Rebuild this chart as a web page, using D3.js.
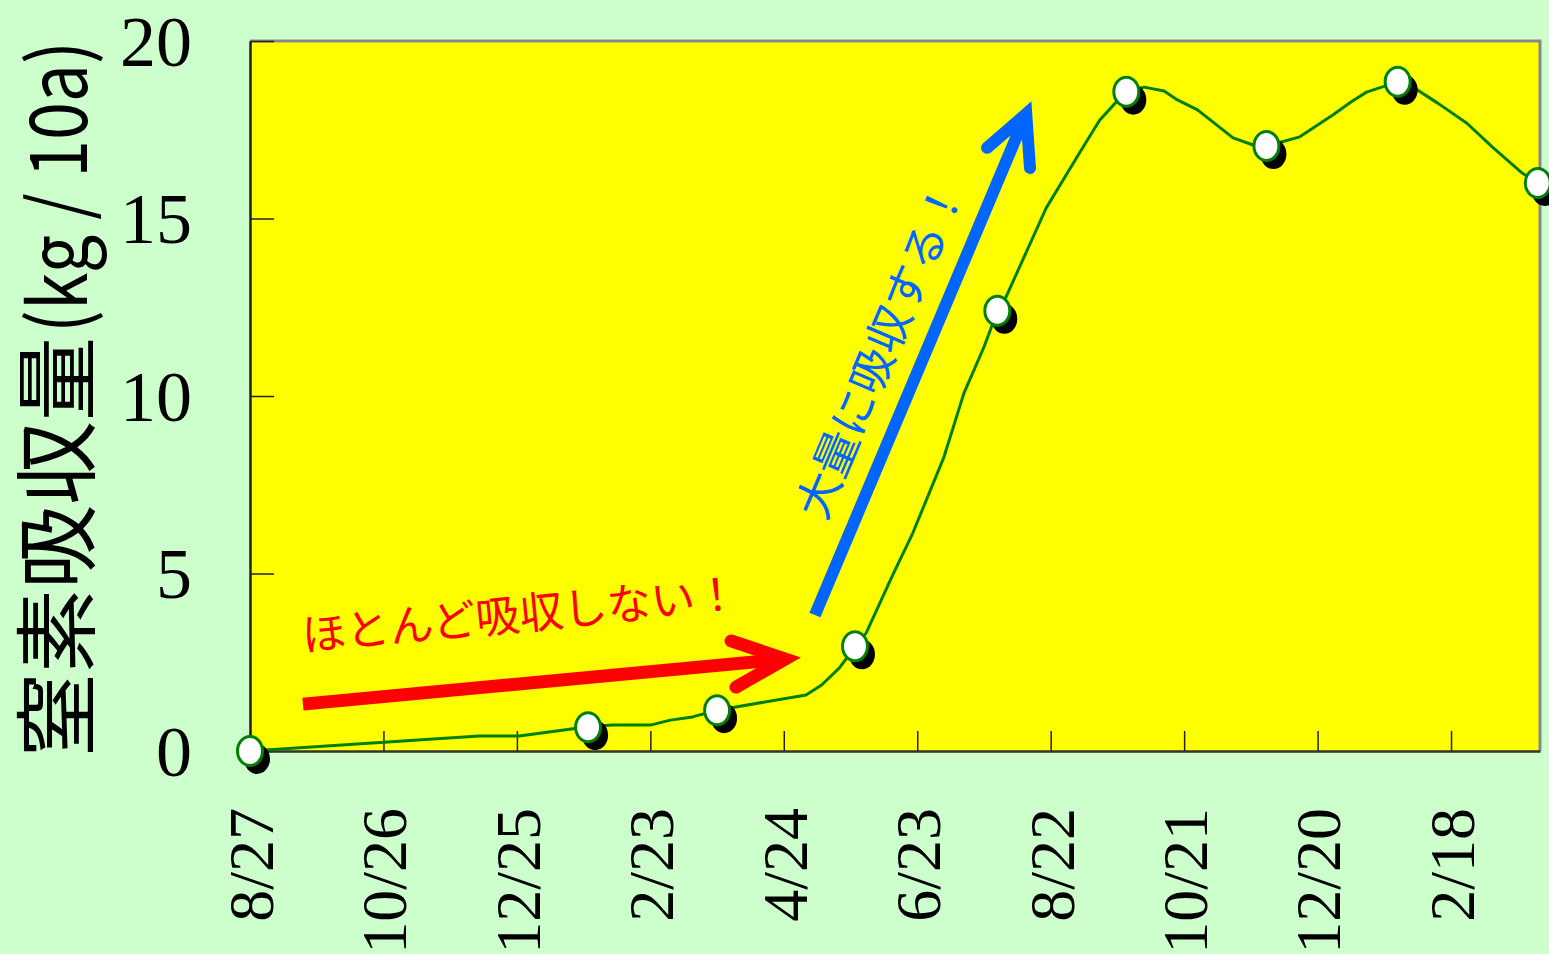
<!DOCTYPE html>
<html><head><meta charset="utf-8">
<script src="https://cdn.jsdelivr.net/npm/d3@7"></script>
<style>
html,body{margin:0;padding:0;background:#CCFFCC;}
svg{display:block;}
</style></head>
<body>
<svg id="chart" width="1549" height="954"></svg>
<script>
// ---- data ----
const tickDays   = [0, 60, 120, 180, 240, 300, 360, 420, 480, 540];
const tickLabels = ["8/27","10/26","12/25","2/23","4/24","6/23","8/22","10/21","12/20","2/18"];
const yTicks     = [0, 5, 10, 15, 20];
// sampled (marker) points: days since 8/27, nitrogen uptake kg/10a
const sampleDays   = [0, 152, 210, 272, 336, 394, 457, 516, 579];
const sampleValues = [0, 0.67, 1.15, 2.95, 12.4, 18.57, 17.04, 18.85, 16.0];
// simulated curve
const curveDays   = [0, 103, 121, 152, 163, 180, 189, 199, 210, 250, 257, 265, 272, 277, 289, 298, 312, 321, 330, 336, 340, 358, 373, 382, 389, 394, 402, 411, 417, 426, 442, 451, 457, 472, 487, 495, 502, 516, 523, 534, 547, 559, 572, 579];
const curveValues = [0, 0.42, 0.42, 0.68, 0.73, 0.73, 0.87, 0.96, 1.15, 1.58, 1.86, 2.34, 2.93, 3.32, 4.96, 6.14, 8.28, 10.08, 11.38, 12.39, 12.8, 15.3, 16.85, 17.77, 18.25, 18.56, 18.70, 18.59, 18.34, 18.06, 17.27, 17.07, 17.04, 17.30, 17.92, 18.28, 18.56, 18.85, 18.70, 18.25, 17.69, 16.99, 16.28, 16.0];
// annotations
const redText  = "ほとんど吸収しない！";
const blueText = "大量に吸収する！";
const yTitleMain = "窒素吸収量";
const yTitleUnit = "(kg / 10a)";

// ---- layout ----
const W = 1549, H = 954;
const m = {left: 250, top: 41, right: 1540, bottom: 751};
const svg = d3.select("#chart");
const x = d3.scaleLinear().domain([0, 580]).range([m.left, m.right]);
const y = d3.scaleLinear().domain([0, 20]).range([m.bottom, m.top]);

svg.append("rect").attr("width", W).attr("height", H).attr("fill", "#CCFFCC");
svg.append("rect").attr("x", m.left).attr("y", m.top)
  .attr("width", m.right - m.left).attr("height", m.bottom - m.top)
  .attr("fill", "#FFFF00");
svg.append("path")
  .attr("d", `M${m.left},${m.top}H${m.right}V${m.bottom}`)
  .attr("fill", "none").attr("stroke", "#888").attr("stroke-width", 3);

// axes
const yAxis = d3.axisLeft(y).tickValues(yTicks).tickSizeInner(-24).tickSizeOuter(0).tickPadding(58);
const gy = svg.append("g").attr("transform", `translate(${m.left},0)`).call(yAxis);
gy.select(".domain").attr("stroke", "#222").attr("stroke-width", 2.5);
gy.selectAll(".tick line").attr("stroke", "#222").attr("stroke-width", 1.5);
gy.selectAll(".tick text").attr("font-family", "'Liberation Serif','Times New Roman',serif")
  .attr("font-size", 72).attr("fill", "#000").attr("dy", "0.34em");

const xAxis = d3.axisBottom(x).tickValues(tickDays).tickFormat((d, i) => tickLabels[i])
  .tickSizeInner(-20).tickSizeOuter(0);
const gx = svg.append("g").attr("transform", `translate(0,${m.bottom})`).call(xAxis);
gx.select(".domain").attr("stroke", "#333").attr("stroke-width", 2.5);
gx.selectAll(".tick line").attr("stroke", "#222").attr("stroke-width", 1.5);
gx.selectAll(".tick text")
  .attr("font-family", "'Liberation Serif','Times New Roman',serif")
  .attr("font-size", 64).attr("fill", "#000")
  .attr("transform", "rotate(-90)")
  .attr("x", -57).attr("y", 0).attr("dy", "0.35em")
  .attr("text-anchor", "end");

// y title (two parts)
const titleFont = "'Noto Sans CJK JP','Noto Sans',sans-serif";
svg.append("text")
  .attr("transform", `translate(58,757) rotate(-90)`)
  .attr("text-anchor", "start").attr("dy", "0.36em")
  .attr("font-family", titleFont).attr("font-size", 84).attr("fill", "#000")
  .text(yTitleMain);
svg.append("text")
  .attr("transform", `translate(58,333) rotate(-90)`)
  .attr("text-anchor", "start").attr("dy", "0.36em")
  .attr("font-family", titleFont).attr("font-size", 80).attr("fill", "#000")
  .attr("textLength", 292).attr("lengthAdjust", "spacingAndGlyphs")
  .text(yTitleUnit);

// curve
const curve = curveDays.map((d, i) => [d, curveValues[i]]);
svg.append("path").datum(curve)
  .attr("d", d3.line().x(d => x(d[0])).y(d => y(d[1])))
  .attr("fill", "none").attr("stroke", "#008000").attr("stroke-width", 3)
  .attr("stroke-linejoin", "round");

// markers
const samples = sampleDays.map((d, i) => [d, sampleValues[i]]);
svg.append("g").selectAll("ellipse").data(samples).join("ellipse")
  .attr("cx", d => x(d[0]) + 7).attr("cy", d => y(d[1]) + 8)
  .attr("rx", 13).attr("ry", 15).attr("fill", "#000");
svg.append("g").selectAll("ellipse").data(samples).join("ellipse")
  .attr("cx", d => x(d[0])).attr("cy", d => y(d[1]))
  .attr("rx", 12.5).attr("ry", 14.5).attr("fill", "#fff")
  .attr("stroke", "#008000").attr("stroke-width", 3);

// arrows
function arrow(start, tip, armA, armB, color, w) {
  const g = svg.append("g");
  g.append("path")
    .attr("d", `M${x(start[0])},${y(start[1])}L${x(tip[0])},${y(tip[1])}`)
    .attr("stroke", color).attr("stroke-width", w).attr("fill", "none");
  g.append("path")
    .attr("d", `M${x(armA[0])},${y(armA[1])}L${x(tip[0])},${y(tip[1])}L${x(armB[0])},${y(armB[1])}`)
    .attr("stroke", color).attr("stroke-width", w).attr("fill", "none")
    .attr("stroke-linecap", "round").attr("stroke-linejoin", "miter").attr("stroke-miterlimit", 10);
}
arrow([23.8, 1.32], [240.6, 2.59], [216.3, 3.10], [218.5, 1.80], "#FF0000", 13);
arrow([254.0, 3.83], [349.0, 17.95], [331.4, 16.99], [350.7, 16.42], "#0066FF", 12);

svg.append("text")
  .attr("transform", `translate(${x(24.0)},${y(2.80)}) rotate(-5.6)`)
  .attr("font-family", "'Noto Sans CJK JP',sans-serif").attr("font-size", 44)
  .attr("fill", "#FF0000").text(redText);
svg.append("text")
  .attr("transform", `translate(${x(258.5)},${y(6.45)}) rotate(-67)`)
  .attr("font-family", "'Noto Sans CJK JP',sans-serif").attr("font-size", 45)
  .attr("fill", "#0066FF").text(blueText);
</script>
</body></html>
